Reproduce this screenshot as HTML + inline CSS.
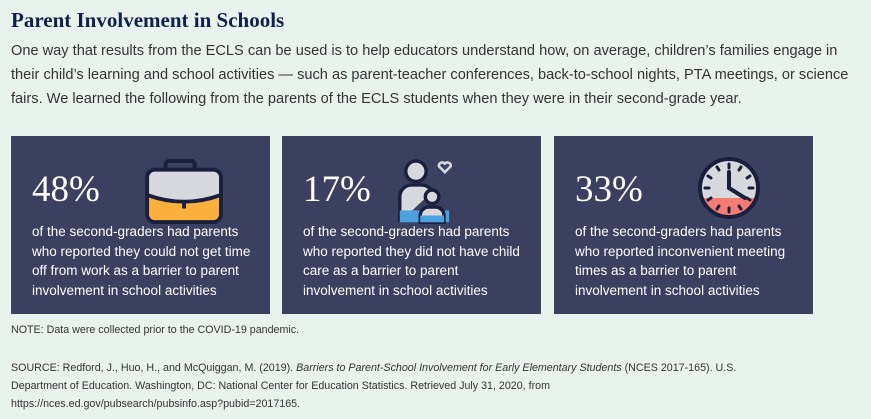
<!DOCTYPE html>
<html><head><meta charset="utf-8"><style>
body{margin:0;width:871px;height:419px;background:#e9f3ee;font-family:"Liberation Sans",sans-serif;position:relative;overflow:hidden}
.t{position:absolute;left:11px;top:8px;font-family:"Liberation Serif",serif;font-weight:bold;font-size:21px;color:#0f2148}
.p{position:absolute;left:11px;top:39px;width:860px;font-size:14.6px;line-height:24px;color:#333;white-space:nowrap}
.c{position:absolute;top:136px;width:259px;height:178px;background:#3b3f60;color:#fff}
.n{position:absolute;left:21px;top:32px;font-family:"Liberation Serif",serif;font-size:37px}
.d{position:absolute;left:21px;top:86px;font-size:13.5px;line-height:19.5px;white-space:nowrap}
.i{position:absolute}
.s{position:absolute;left:11px;font-size:10.7px;color:#333;line-height:18px;white-space:nowrap}
</style></head><body>
<div class="t">Parent Involvement in Schools</div>
<div class="p">One way that results from the ECLS can be used is to help educators understand how, on average, children’s families engage in<br>their child’s learning and school activities — such as parent-teacher conferences, back-to-school nights, PTA meetings, or science<br>fairs. We learned the following from the parents of the ECLS students when they were in their second-grade year.</div>

<div class="c" style="left:11px">
<div class="n">48%</div>
<svg class="i" style="left:130px;top:22px" width="90" height="68" viewBox="0 0 90 70">
<rect x="24" y="3" width="30" height="14" rx="4" fill="none" stroke="#1a1f3d" stroke-width="4"/>
<rect x="5" y="12" width="76" height="54" rx="8" fill="#fbb03b"/>
<path d="M5 20 a8 8 0 0 1 8-8 h60 a8 8 0 0 1 8 8 v18 q-38 14 -76 0z" fill="#d8d9df"/>
<rect x="5" y="12" width="76" height="54" rx="8" fill="none" stroke="#1a1f3d" stroke-width="4"/>
<path d="M5 38 q38 14 76 0" fill="none" stroke="#1a1f3d" stroke-width="4"/>
<line x1="43" y1="44" x2="43" y2="52" stroke="#1a1f3d" stroke-width="4"/>
</svg>
<div class="d">of the second-graders had parents<br>who reported they could not get time<br>off from work as a barrier to parent<br>involvement in school activities</div>
</div>

<div class="c" style="left:282px">
<div class="n">17%</div>
<svg class="i" style="left:111px;top:20px" width="68" height="68" viewBox="0 0 80 80">
<circle cx="27" cy="18" r="12" fill="#d8d9df" stroke="#1a1f3d" stroke-width="4"/>
<path d="M8 78 v-30 a14 14 0 0 1 14-14 h12 a14 14 0 0 1 12 8" fill="#d8d9df" stroke="#1a1f3d" stroke-width="4"/>
<rect x="8" y="64" width="58" height="14" fill="#4aa3df"/>
<circle cx="46" cy="48" r="8" fill="#d8d9df" stroke="#1a1f3d" stroke-width="4"/>
<path d="M32 78 v-8 a10 10 0 0 1 10-10 h8 a10 10 0 0 1 10 10 v8z" fill="#d8d9df" stroke="#1a1f3d" stroke-width="4"/>
<rect x="32" y="70" width="28" height="8" fill="#4aa3df"/>
<path d="M54 12 l7 7 l7 -7 a4 4 0 0 0 -7 -3 a4 4 0 0 0 -7 3z" fill="none" stroke="#d8d9df" stroke-width="3"/>
</svg>
<div class="d">of the second-graders had parents<br>who reported they did not have child<br>care as a barrier to parent<br>involvement in school activities</div>
</div>

<div class="c" style="left:554px">
<div class="n">33%</div>
<svg class="i" style="left:143px;top:20px" width="64" height="64" viewBox="0 0 64 64">
<circle cx="32" cy="32" r="29" fill="#d8d9df"/>
<path d="M5 42 h54 a29 29 0 0 1 -54 0z" fill="#f47c73"/>
<circle cx="32" cy="32" r="29" fill="none" stroke="#1a1f3d" stroke-width="4"/>
<g stroke="#1a1f3d" stroke-width="3" stroke-linecap="round">
<line x1="32" y1="8" x2="32" y2="12"/><line x1="32" y1="52" x2="32" y2="56"/>
<line x1="8" y1="32" x2="12" y2="32"/><line x1="52" y1="32" x2="56" y2="32"/>
<line x1="20" y1="11" x2="22" y2="14"/><line x1="44" y1="11" x2="42" y2="14"/>
<line x1="11" y1="20" x2="14" y2="22"/><line x1="53" y1="20" x2="50" y2="22"/>
<line x1="11" y1="44" x2="14" y2="42"/><line x1="53" y1="44" x2="50" y2="42"/>
<line x1="20" y1="53" x2="22" y2="50"/><line x1="44" y1="53" x2="42" y2="50"/>
<line x1="32" y1="32" x2="32" y2="16" stroke-width="4"/><line x1="32" y1="32" x2="48" y2="42" stroke-width="4"/>
</g>
</svg>
<div class="d">of the second-graders had parents<br>who reported inconvenient meeting<br>times as a barrier to parent<br>involvement in school activities</div>
</div>

<div class="s" style="top:321px">NOTE: Data were collected prior to the COVID-19 pandemic.</div>
<div class="s" style="top:359px">SOURCE: Redford, J., Huo, H., and McQuiggan, M. (2019). <i>Barriers to Parent-School Involvement for Early Elementary Students</i> (NCES 2017-165). U.S.<br>Department of Education. Washington, DC: National Center for Education Statistics. Retrieved July 31, 2020, from<br>https://nces.ed.gov/pubsearch/pubsinfo.asp?pubid=2017165.</div>
</body></html>
